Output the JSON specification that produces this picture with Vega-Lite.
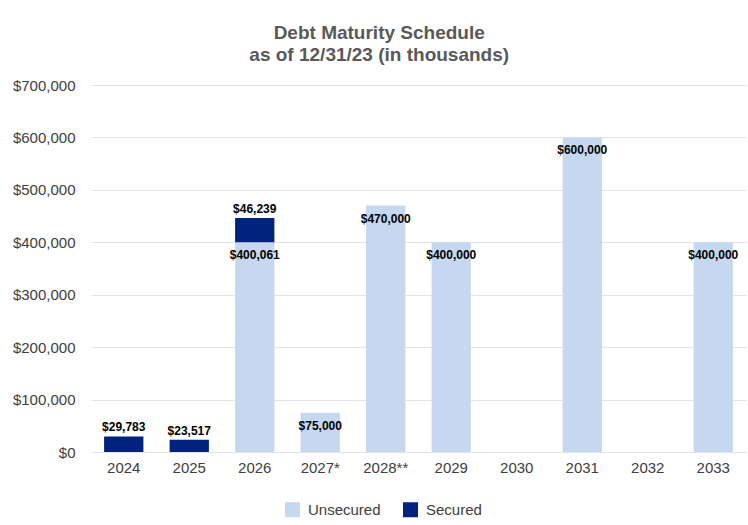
{
  "$schema": "https://vega.github.io/schema/vega-lite/v6.json",
  "autosize": "none",
  "padding": {"left": 91, "top": 85, "right": 2, "bottom": 73},
  "width": 655,
  "height": 367,
  "background": "white",
  "title": {
    "text": ["Debt Maturity Schedule", "as of 12/31/23 (in thousands)"],
    "font": "Liberation Sans",
    "fontSize": 19,
    "fontWeight": "bold",
    "color": "#595959",
    "lineHeight": 22,
    "anchor": "middle",
    "frame": "bounds",
    "offset": 13
  },
  "config": {
    "view": {"stroke": null},
    "font": "Liberation Sans",
    "axis": {"labelFont": "Liberation Sans", "labelFontSize": 15, "labelColor": "#404040", "ticks": false, "domain": false, "title": null},
    "legend": {"labelFont": "Liberation Sans", "labelFontSize": 15, "labelColor": "#404040"}
  },
  "data": {
    "values": [
      {"year": "2024", "type": "Secured", "value": 29783},
      {"year": "2025", "type": "Secured", "value": 23517},
      {"year": "2026", "type": "Unsecured", "value": 400061},
      {"year": "2026", "type": "Secured", "value": 46239},
      {"year": "2027*", "type": "Unsecured", "value": 75000},
      {"year": "2028**", "type": "Unsecured", "value": 470000},
      {"year": "2029", "type": "Unsecured", "value": 400000},
      {"year": "2031", "type": "Unsecured", "value": 600000},
      {"year": "2033", "type": "Unsecured", "value": 400000}
    ]
  },
  "transform": [
    {"stack": "value", "groupby": ["year"], "sort": [{"field": "type", "order": "descending"}], "as": ["v0", "v1"]}
  ],
  "encoding": {
    "x": {
      "field": "year", "type": "nominal",
      "scale": {"domain": ["2024", "2025", "2026", "2027*", "2028**", "2029", "2030", "2031", "2032", "2033"], "paddingInner": 0.4, "paddingOuter": 0.2},
      "axis": {"labelAngle": 0, "labelPadding": 8, "grid": false}
    },
    "y": {
      "field": "v1", "type": "quantitative",
      "scale": {"domain": [0, 700000], "nice": false},
      "axis": {"values": [0, 100000, 200000, 300000, 400000, 500000, 600000, 700000], "format": "$,.0f", "labelPadding": 16, "grid": true, "gridColor": "#e3e3e3", "gridWidth": 1}
    }
  },
  "layer": [
    {
      "mark": {"type": "bar"},
      "encoding": {
        "y2": {"field": "v0"},
        "color": {
          "field": "type", "type": "nominal",
          "scale": {"domain": ["Unsecured", "Secured"], "range": ["#C5D8EF", "#00237D"]},
          "legend": {
            "title": null, "orient": "none", "direction": "horizontal",
            "legendX": 194, "legendY": 417,
            "symbolType": "square", "symbolSize": 225, "symbolStrokeWidth": 0,
            "labelOffset": 8, "columnPadding": 22
          }
        }
      }
    },
    {
      "transform": [{"filter": "datum.type == 'Secured'"}],
      "mark": {"type": "text", "fontWeight": "bold", "fontSize": 12, "color": "#000000", "baseline": "middle", "dy": -9},
      "encoding": {"text": {"field": "value", "type": "quantitative", "format": "$,.0f"}}
    },
    {
      "transform": [{"filter": "datum.type == 'Unsecured'"}],
      "mark": {"type": "text", "fontWeight": "bold", "fontSize": 12, "color": "#000000", "baseline": "middle", "dy": 13},
      "encoding": {"text": {"field": "value", "type": "quantitative", "format": "$,.0f"}}
    }
  ]
}
